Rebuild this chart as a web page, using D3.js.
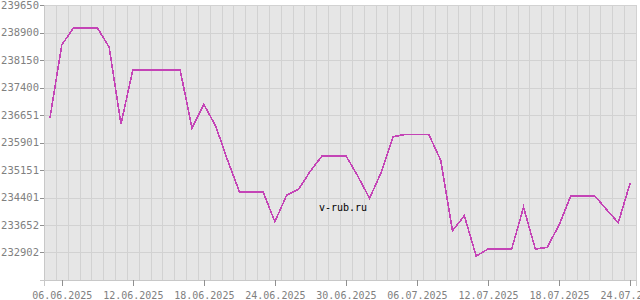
<!DOCTYPE html>
<html>
<head>
<meta charset="utf-8">
<script src="https://cdn.jsdelivr.net/npm/d3@7"></script>
<style>
  body { margin: 0; background: #fff; }
  svg { display: block; }
  text { font-family: "DejaVu Sans Mono", monospace; font-size: 10px; }
</style>
</head>
<body>
<div id="chart"></div>
<script>
// daily rate, 05.06.2025 .. 24.07.2025
const startDate = '2025-06-05';
const values = [
  236560, 238560, 239031, 239031, 239031, 238500, 236405, 237877, 237877, 237877,
  237877, 237877, 236288, 236942, 236350, 235423, 234559, 234559, 234559, 233741,
  234469, 234624, 235123, 235541, 235541, 235541, 234987, 234379, 235104, 236060,
  236120, 236120, 236120, 235423, 233495, 233904, 232805, 232996, 232996, 232996,
  234133, 232996, 233042, 233651, 234450, 234450, 234450, 234079, 233713, 234788
];
const yTickValues = [232902, 233652, 234401, 235151, 235901, 236651, 237400, 238150, 238900, 239650];
const yMin = 232152;
const xTickLabels = ['06.06.2025', '12.06.2025', '18.06.2025', '24.06.2025', '30.06.2025',
  '06.07.2025', '12.07.2025', '18.07.2025', '24.07.2025'];
const watermark = 'v-rub.ru';

const parseDay = d3.timeParse('%Y-%m-%d');
const parseLabel = d3.timeParse('%d.%m.%Y');
const day0 = parseDay(startDate);
const data = values.map((v, i) => ({ date: d3.timeDay.offset(day0, i), value: v }));

const width = 640;
const height = 300;
const area = { left: 44, right: 636, top: 5, bottom: 280 };

const svg = d3.select('#chart').append('svg')
  .attr('width', width)
  .attr('height', height);

const half = 12 * 3600 * 1000;
const x = d3.scaleTime()
  .domain([new Date(+data[0].date - half), new Date(+data[data.length - 1].date + half)])
  .range([area.left, area.right]);

const y = d3.scaleLinear()
  .domain([yMin, d3.max(yTickValues)])
  .range([area.bottom, area.top]);

// plot background
svg.append('rect')
  .attr('x', area.left)
  .attr('y', area.top)
  .attr('width', area.right - area.left)
  .attr('height', area.bottom - area.top)
  .attr('fill', '#e6e6e6');

// vertical gridlines between days
const vGrid = d3.range(data.length + 1).map((i) => new Date(+data[0].date - half + i * 2 * half));
svg.append('g')
  .attr('class', 'gridlines')
  .attr('transform', `translate(0, ${area.bottom})`)
  .call(d3.axisBottom(x).tickValues(vGrid).tickFormat('').tickSize(-(area.bottom - area.top)))
  .call((g) => g.select('.domain').remove())
  .call((g) => g.selectAll('line').attr('stroke', '#d2d2d2').attr('shape-rendering', 'crispEdges'));

// horizontal gridlines
svg.append('g')
  .attr('class', 'gridlines')
  .attr('transform', `translate(${area.left}, 0)`)
  .call(d3.axisLeft(y).tickValues([yMin, ...yTickValues]).tickFormat('').tickSize(-(area.right - area.left)))
  .call((g) => g.select('.domain').remove())
  .call((g) => g.selectAll('line').attr('stroke', '#d2d2d2').attr('shape-rendering', 'crispEdges'));

// y axis
const yAxis = svg.append('g')
  .attr('transform', `translate(${area.left}, 0)`)
  .call(d3.axisLeft(y).tickValues(yTickValues).tickFormat((d) => String(d)).tickSize(4).tickPadding(1));
yAxis.select('.domain').attr('stroke', '#c8c8c8').attr('shape-rendering', 'crispEdges');
yAxis.selectAll('line').attr('stroke', '#909090').attr('shape-rendering', 'crispEdges');
yAxis.selectAll('text').attr('fill', '#808080').style('font-size', '10.5px');

// x axis
const xAxis = svg.append('g')
  .attr('transform', `translate(0, ${area.bottom})`)
  .call(d3.axisBottom(x)
    .tickValues(xTickLabels.map(parseLabel))
    .tickFormat(d3.timeFormat('%d.%m.%Y'))
    .tickSize(6).tickPadding(6));
xAxis.select('.domain').attr('stroke', '#c8c8c8').attr('shape-rendering', 'crispEdges');
xAxis.selectAll('line').attr('stroke', '#909090').attr('shape-rendering', 'crispEdges');
xAxis.selectAll('text').attr('fill', '#808080').style('font-size', '10px');

// rate line
const line = d3.line()
  .x((d) => x(d.date))
  .y((d) => y(d.value));

svg.append('path')
  .datum(data)
  .attr('d', line)
  .attr('fill', 'none')
  .attr('stroke', '#c444b6')
  .attr('stroke-width', 1.6)
  .attr('shape-rendering', 'crispEdges');

// watermark
svg.append('text')
  .attr('x', 343)
  .attr('y', 211)
  .attr('text-anchor', 'middle')
  .attr('fill', '#000')
  .text(watermark);
</script>
</body>
</html>
